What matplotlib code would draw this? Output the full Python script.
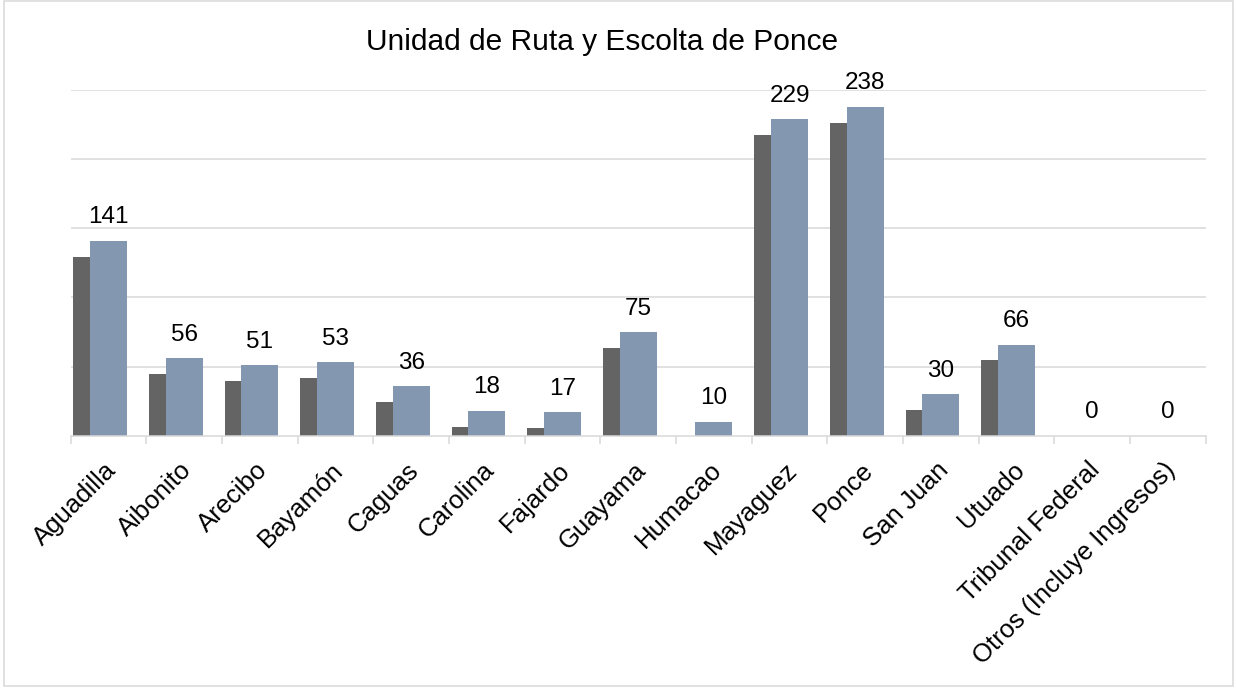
import matplotlib
matplotlib.use('Agg')
import matplotlib.pyplot as plt
import matplotlib.patheffects as pe
from matplotlib.patches import Rectangle
from matplotlib.transforms import ScaledTranslation

plt.rcParams['font.family'] = ['Liberation Sans', 'DejaVu Sans']

# data
regions = ['Aguadilla', 'Aibonito', 'Arecibo', 'Bayamón', 'Caguas', 'Carolina',
           'Fajardo', 'Guayama', 'Humacao', 'Mayaguez', 'Ponce', 'San Juan',
           'Utuado', 'Tribunal Federal', 'Otros (Incluye Ingresos)']
cases = [141, 56, 51, 53, 36, 18, 17, 75, 10, 229, 238, 30, 66, 0, 0]
title = 'Unidad de Ruta y Escolta de Ponce'

grid_col = '#d9d9d9'

fig = plt.figure(figsize=(12.36, 6.91), dpi=100)
ax = fig.add_axes([70.7 / 1236, 1 - 435.8 / 691, (1205.7 - 70.7) / 1236, (435.8 - 90) / 691])

x = list(range(len(regions)))
shadow = [pe.SimplePatchShadow(offset=(-11.9, -11.5), shadow_rgbFace='#646464', alpha=1.0), pe.Normal()]
bars = ax.bar(x, cases, width=0.49, color='#8497b0', zorder=3, path_effects=shadow)
ax.bar_label(bars, padding=9, fontsize=17.5, color='black', clip_on=False)

ax.set_xlim(-0.5, len(regions) - 0.5)
ax.set_ylim(0, 250)
ax.set_yticks([50, 100, 150, 200, 250])
ax.yaxis.grid(True, color=grid_col, linewidth=1.1, zorder=0)
ax.tick_params(axis='y', length=0, labelleft=False)

for s in ['top', 'right', 'left']:
    ax.spines[s].set_visible(False)
ax.spines['bottom'].set_color(grid_col)
ax.spines['bottom'].set_linewidth(1.1)
ax.spines['bottom'].set_zorder(4)

ax.set_xticks(x)
ax.set_xticklabels(regions, rotation=45, ha='right', va='center',
                   rotation_mode='anchor', fontsize=18.5)
ax.tick_params(axis='x', which='major', length=0, pad=22)
ax.set_xticks([i - 0.5 for i in range(len(regions) + 1)], minor=True)
ax.tick_params(axis='x', which='minor', length=5.8, width=1.1, color=grid_col)
shift = ScaledTranslation(4 / 100, 0, fig.dpi_scale_trans)
for lab in ax.get_xticklabels():
    lab.set_transform(lab.get_transform() + shift)

fig.text(602 / 1236, 1 - 50 / 691, title, ha='center', va='baseline', fontsize=21.5)

# chart border
fig.patches.append(Rectangle((4 / 1236, 1 - 686 / 691), 1229 / 1236, 685 / 691,
                             transform=fig.transFigure, fill=False,
                             edgecolor=grid_col, linewidth=1.1))

fig.savefig('out.png', dpi=100)
